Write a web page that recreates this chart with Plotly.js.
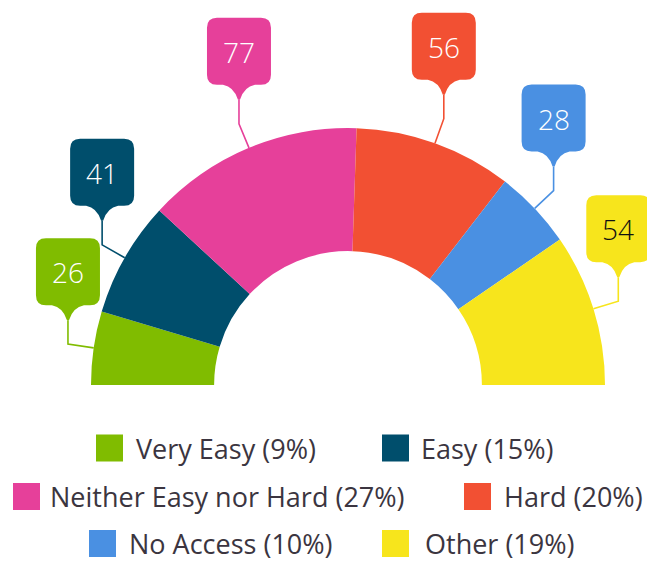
<!DOCTYPE html>
<html>
<head>
<meta charset="utf-8">
<script src="https://cdn.plot.ly/plotly-3.0.1.min.js"></script>
<style>
html,body{margin:0;padding:0;overflow:hidden;background:#fff;}
#chart{width:647px;height:700px;}
</style>
</head>
<body>
<div id="chart"></div>
<script>
// ---- data ----
const categories = ['Very Easy', 'Easy', 'Neither Easy nor Hard', 'Hard', 'No Access', 'Other'];
const counts = [26, 41, 77, 56, 28, 54];
const colors = ['#80BC00', '#004E6C', '#E6409A', '#F25033', '#4A90E2', '#F7E51C'];
const valueTextColors = ['#ffffff', '#ffffff', '#ffffff', '#ffffff', '#ffffff', '#111111'];

// ---- layout constants (pixels) ----
const W = 647, H = 700;
const CX = 348, CY = 385, R = 257, HOLE = 0.521;
const legendSquareX = [96, 382, 13, 464, 89, 382];
const legendTextX = [135, 420, 49, 503, 128, 424];
const legendRowY = [448, 496.5, 543.5];
const SQ = 27;

const total = counts.reduce((a, b) => a + b, 0);
const fx = x => (x / W).toFixed(5);
const fy = y => (1 - y / H).toFixed(5);
const P = (x, y) => fx(x) + ',' + fy(y);

const pie = {
  type: 'pie',
  values: counts.concat([total]),
  labels: categories.concat(['hidden']),
  marker: { colors: colors.concat(['rgba(0,0,0,0)']), line: { width: 0 } },
  sort: false,
  direction: 'clockwise',
  rotation: 270,
  hole: HOLE,
  textinfo: 'none',
  hoverinfo: 'none',
  showlegend: false,
  domain: { x: [(CX - R) / W, (CX + R) / W], y: [1 - (CY + R) / H, 1 - (CY - R) / H] }
};

const shapes = [];
const annotations = [];

// callouts derived from slice mid-angles
let cum = 0;
counts.forEach((v, i) => {
  const mid = (cum + v / 2) / total * Math.PI;
  cum += v;
  const dx = -Math.cos(mid), dy = -Math.sin(mid);
  const ax = CX + R * dx, ay = CY + R * dy;
  const bx = CX + (R + 26) * dx, by = CY + (R + 26) * dy;
  const tx = bx, ty = by - 24;
  // leader line
  shapes.push({
    type: 'path', xref: 'paper', yref: 'paper', layer: 'below',
    path: 'M' + P(tx, ty) + ' L' + P(bx, by) + ' L' + P(ax, ay),
    line: { color: colors[i], width: 1.6 }, fillcolor: 'rgba(0,0,0,0)'
  });
  // box with pointer
  const L = tx - 32, Rr = tx + 32, T = ty - 82, B = ty - 15, r = 10;
  const path = 'M' + P(L + r, T) +
    ' L' + P(Rr - r, T) + ' Q' + P(Rr, T) + ' ' + P(Rr, T + r) +
    ' L' + P(Rr, B - r) + ' Q' + P(Rr, B) + ' ' + P(Rr - r, B) +
    ' L' + P(tx + 16, B) + ' Q' + P(tx + 5, B + 2) + ' ' + P(tx + 1, ty) +
    ' L' + P(tx - 1, ty) + ' Q' + P(tx - 5, B + 2) + ' ' + P(tx - 16, B) +
    ' L' + P(L + r, B) + ' Q' + P(L, B) + ' ' + P(L, B - r) +
    ' L' + P(L, T + r) + ' Q' + P(L, T) + ' ' + P(L + r, T) + ' Z';
  shapes.push({
    type: 'path', xref: 'paper', yref: 'paper', layer: 'above',
    path: path, line: { width: 0 }, fillcolor: colors[i]
  });
  annotations.push({
    xref: 'paper', yref: 'paper', x: tx / W, y: 1 - (ty - 48) / H,
    xanchor: 'center', yanchor: 'middle', showarrow: false,
    text: String(v),
    font: { family: 'Open Sans, sans-serif', size: 28, color: valueTextColors[i], weight: 300 }
  });
});

// legend
categories.forEach((c, i) => {
  const row = Math.floor(i / 2);
  const yc = legendRowY[row];
  const sx = legendSquareX[i];
  shapes.push({
    type: 'rect', xref: 'paper', yref: 'paper', layer: 'above',
    x0: fx(sx), x1: fx(sx + SQ), y0: fy(yc - SQ / 2), y1: fy(yc + SQ / 2),
    line: { width: 0 }, fillcolor: colors[i]
  });
  const pct = Math.round(counts[i] / total * 100);
  annotations.push({
    xref: 'paper', yref: 'paper', x: legendTextX[i] / W, y: 1 - yc / H,
    xanchor: 'left', yanchor: 'middle', showarrow: false, borderpad: 0,
    text: c + ' (' + pct + '%)',
    font: { family: 'Open Sans, sans-serif', size: 27, color: '#3b3540' }
  });
});

const layout = {
  width: W, height: H,
  margin: { l: 0, r: 0, t: 0, b: 0, pad: 0 },
  paper_bgcolor: '#ffffff',
  plot_bgcolor: '#ffffff',
  showlegend: false,
  shapes: shapes,
  annotations: annotations
};

Plotly.newPlot('chart', [pie], layout, { staticPlot: true, displayModeBar: false });
</script>
</body>
</html>
